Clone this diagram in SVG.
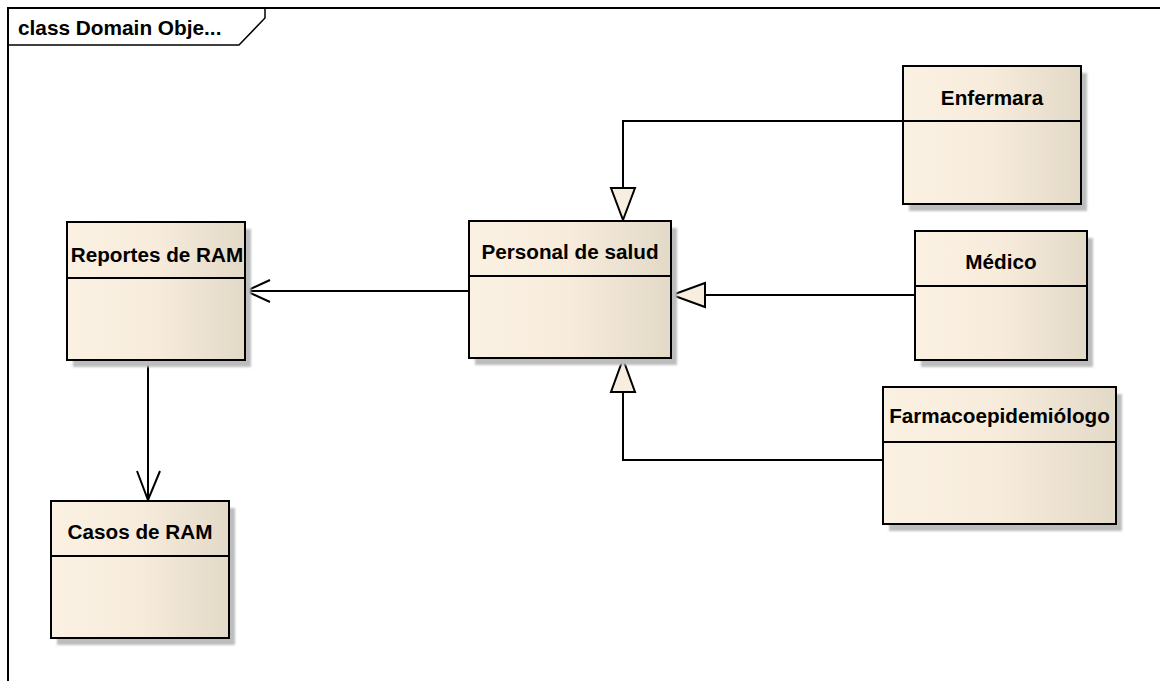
<svg xmlns="http://www.w3.org/2000/svg" width="1160" height="681" viewBox="0 0 1160 681">
<defs>
<linearGradient id="g" x1="0" y1="0" x2="1" y2="0">
<stop offset="0" stop-color="#fbf1e2"/>
<stop offset="0.5" stop-color="#f7ecdc"/>
<stop offset="1" stop-color="#e3d9c7"/>
</linearGradient>
<filter id="blur" x="-10%" y="-10%" width="130%" height="130%"><feGaussianBlur stdDeviation="1"/></filter>
</defs>
<style>
.sh{fill:#bdbdbd;filter:url(#blur)}
.box{fill:url(#g);stroke:#000;stroke-width:2}
.div{stroke:#000;stroke-width:2}
.t{font-family:"Liberation Sans",Arial,sans-serif;font-weight:bold;font-size:20.7px;fill:#000;text-anchor:middle}
.ln{fill:none;stroke:#000;stroke-width:2}
.tri{fill:#f8eedf;stroke:#000;stroke-width:2;stroke-linejoin:miter}
</style>
<rect width="1160" height="681" fill="#fff"/>
<g id="frame">
<path d="M8,681 V8 H1160" fill="none" stroke="#000" stroke-width="2"/>
<path d="M8,45 H239 L265,18 V8" fill="none" stroke="#000" stroke-width="1.5"/>
<text x="18" y="35" font-family="'Liberation Sans',Arial,sans-serif" font-weight="bold" font-size="20.8px">class Domain Obje...</text>
</g>
<g id="connectors">
<path class="ln" d="M469,291 H246"/>
<path class="ln" d="M270,280 L246,291 L270,302"/>
<path class="ln" d="M148,360 V500"/>
<path class="ln" d="M137,471 L148,500 L160,471"/>
<path class="ln" d="M903,121 H623 V188"/>
<path class="tri" d="M611,188 H635 L623,220 Z"/>
<path class="ln" d="M915,295 H705"/>
<path class="tri" d="M705,283 V307 L672,295 Z"/>
<path class="ln" d="M883,460 H623 V392"/>
<path class="tri" d="M611,392 H635 L623,359 Z"/>
</g>
<g id="reportes">
<rect class="sh" x="73" y="229" width="178" height="138"/>
<rect class="box" x="67" y="222" width="178" height="138"/>
<line class="div" x1="67" y1="278" x2="245" y2="278"/>
<text class="t" x="157" y="262">Reportes de RAM</text>
</g>
<g id="personal">
<rect class="sh" x="475" y="228" width="202" height="137"/>
<rect class="box" x="469" y="221" width="202" height="137"/>
<line class="div" x1="469" y1="276" x2="671" y2="276"/>
<text class="t" x="570" y="259">Personal de salud</text>
</g>
<g id="enfermara">
<rect class="sh" x="909" y="73" width="178" height="138"/>
<rect class="box" x="903" y="66" width="178" height="138"/>
<line class="div" x1="903" y1="121" x2="1081" y2="121"/>
<text class="t" x="992" y="105">Enfermara</text>
</g>
<g id="medico">
<rect class="sh" x="921" y="238" width="172" height="129"/>
<rect class="box" x="915" y="231" width="172" height="129"/>
<line class="div" x1="915" y1="286" x2="1087" y2="286"/>
<text class="t" x="1001" y="269">Médico</text>
</g>
<g id="farmaco">
<rect class="sh" x="889" y="394" width="233" height="137"/>
<rect class="box" x="883" y="387" width="233" height="137"/>
<line class="div" x1="883" y1="442" x2="1116" y2="442"/>
<text class="t" x="999.5" y="423">Farmacoepidemiólogo</text>
</g>
<g id="casos">
<rect class="sh" x="57" y="508" width="178" height="137"/>
<rect class="box" x="51" y="501" width="178" height="137"/>
<line class="div" x1="51" y1="556" x2="229" y2="556"/>
<text class="t" x="140" y="539">Casos de RAM</text>
</g>
</svg>
